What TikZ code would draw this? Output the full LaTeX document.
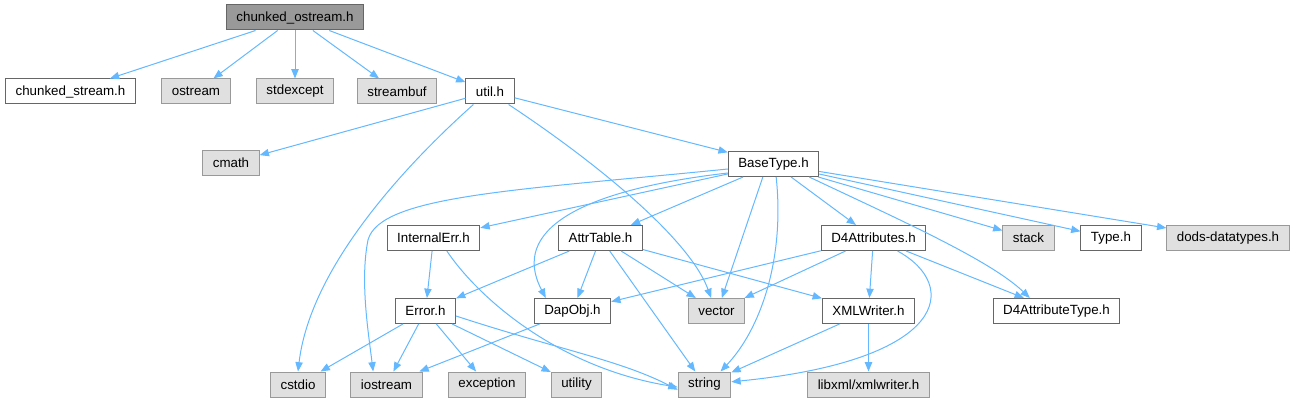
\documentclass[tikz,border=0pt]{standalone}
\usepackage{fontspec}
\setmainfont{Liberation Sans}
\usetikzlibrary{arrows.meta}
\definecolor{edgeblue}{HTML}{63B8FF}
\definecolor{boxline}{HTML}{666666}
\definecolor{sysline}{HTML}{999999}
\definecolor{sysfill}{HTML}{E0E0E0}

\begin{document}
\begin{tikzpicture}[x=0.75pt,y=-0.75pt,>={Triangle[length=7pt,width=5.5pt]},
  hdr/.style={draw=boxline,fill=white,line width=0.75pt,minimum height=18.75pt,inner xsep=7.5pt,font=\fontsize{10}{12}\selectfont},
  sys/.style={hdr,draw=sysline,fill=sysfill},
  root/.style={hdr,fill=sysline},
  dep/.style={->,draw=edgeblue,line width=0.75pt}]
  \useasboundingbox (0,0) rectangle (1296,403);
  % top rows
  \node[root] (cos) at (295,17.5){chunked\_ostream.h};
  \node[hdr] (cst) at (70.5,91.5){chunked\_stream.h};
  \node[sys] (ost) at (196,91.5){ostream};
  \node[sys] (sex) at (295,91.5){stdexcept};
  \node[sys] (sbf) at (397,91.5){streambuf};
  \node[hdr] (utl) at (490,91.5){util.h};
  \node[sys] (cma) at (231,163){cmath};
  \node[hdr] (bty) at (773.5,164){BaseType.h};
  % middle rows
  \node[hdr] (ier) at (433.5,238){InternalErr.h};
  \node[hdr] (atb) at (600.5,238){AttrTable.h};
  \node[hdr] (d4a) at (873.5,238){D4Attributes.h};
  \node[sys] (stk) at (1028.5,238){stack};
  \node[hdr] (typ) at (1111,238){Type.h};
  \node[sys] (dod) at (1228,238){dods-datatypes.h};
  \node[hdr] (err) at (425.5,311){Error.h};
  \node[hdr] (dob) at (572.5,311){DapObj.h};
  \node[sys] (vec) at (716.5,311){vector};
  \node[hdr] (xmw) at (868.5,311){XMLWriter.h};
  \node[hdr] (d4t) at (1056.5,311){D4AttributeType.h};
  % bottom row
  \node[sys] (cio) at (298,384.5){cstdio};
  \node[sys] (ios) at (386.5,384.5){iostream};
  \node[sys] (exc) at (487,384.5){exception};
  \node[sys] (uty) at (576.5,384.5){utility};
  \node[sys] (str) at (704.5,384.5){string};
  \node[sys] (lxw) at (868.5,384.5){libxml/xmlwriter.h};

  \foreach \t in {cst,ost,sex,sbf,utl}
    \draw[dep] (cos) -- (\t);
  \draw[dep] (utl) -- (cma);
  \draw[dep] (utl.south west) ++(8,0) .. controls (400,170) and (310,270) .. (cio.north);
  \draw[dep] (utl.south east) ++(-6,0) .. controls (600,165) and (690,240) .. ([xshift=-4]vec.north);
  \draw[dep] (utl) -- (bty);

  \draw[dep] (bty.west) ++(0,5) .. controls (520,190) and (380,195) .. (368,240) .. controls (360,280) and (368,330) .. ([xshift=-10]ios.north);
  \draw[dep] (bty) -- (ier);
  \draw[dep] (bty.west) ++(0,9) .. controls (580,190) and (510,230) .. ([xshift=-20]dob.north);
  \draw[dep] (bty) -- (atb);
  \draw[dep] ([xshift=-8]bty.south) -- ([xshift=4]vec.north);
  \draw[dep] ([xshift=2]bty.south) .. controls (785,260) and (760,330) .. ([xshift=12]str.north);
  \draw[dep] (bty) -- (d4a);
  \draw[dep] (bty.south east) ++(-10,0) .. controls (900,220) and (990,260) .. ([xshift=-20]d4t.north);
  \foreach \t in {stk,typ,dod}
    \draw[dep] (bty) -- (\t);

  \draw[dep] (ier) -- (err);
  \draw[dep] ([xshift=10]ier.south) .. controls (480,300) and (560,368) .. ([yshift=-2]str.west);
  \foreach \t in {err,dob,vec,str,xmw}
    \draw[dep] (atb) -- (\t);
  \foreach \t in {dob,vec,xmw,d4t}
    \draw[dep] (d4a) -- (\t);
  \draw[dep] ([xshift=18]d4a.south) .. controls (960,285) and (950,360) .. ([yshift=2]str.east);
  \foreach \t in {cio,ios,exc,uty}
    \draw[dep] (err) -- (\t);
  \draw[dep] (err.east) ++(0,5) .. controls (560,350) and (620,360) .. ([yshift=-4]str.west);
  \draw[dep] (dob) -- (ios);
  \draw[dep] (xmw) -- (str);
  \draw[dep] (xmw) -- (lxw);
\end{tikzpicture}
\end{document}
